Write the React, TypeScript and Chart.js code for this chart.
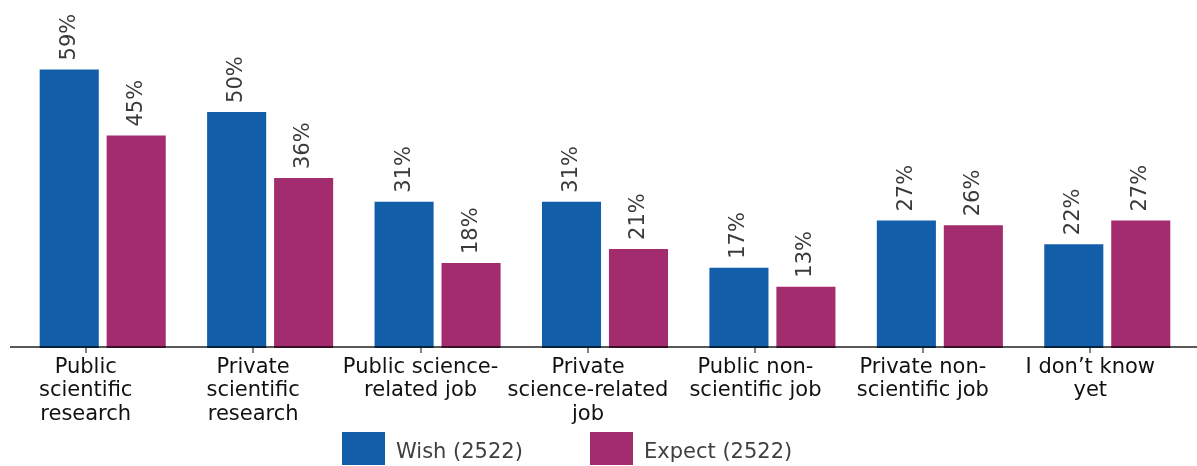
import React, { useEffect, useRef } from "react";
import { Chart, registerables } from "chart.js";

Chart.register(...registerables);

const categories: string[][] = [
  ["Public", "scientific", "research"],
  ["Private", "scientific", "research"],
  ["Public science-", "related job"],
  ["Private", "science-related", "job"],
  ["Public non-", "scientific job"],
  ["Private non-", "scientific job"],
  ["I don\u2019t know", "yet"],
];
const wishValues = [59, 50, 31, 31, 17, 27, 22];
const expectValues = [45, 36, 18, 21, 13, 26, 27];
const seriesNames = ["Wish (2522)", "Expect (2522)"];
const BLUE = "#125EA8";
const MAGENTA = "#A22C6E";
const FONT = "'DejaVu Sans', sans-serif";

const labelPlugin = {
  id: "valueLabels",
  afterDatasetsDraw(chart: any) {
    const ctx = chart.ctx;
    ctx.save();
    ctx.font = `21px ${FONT}`;
    ctx.fillStyle = "#3a3a3a";
    ctx.textAlign = "left";
    ctx.textBaseline = "middle";
    chart.data.datasets.forEach((ds: any, di: number) => {
      const meta = chart.getDatasetMeta(di);
      meta.data.forEach((el: any, i: number) => {
        ctx.save();
        ctx.translate(el.x, el.y - 9);
        ctx.rotate(-Math.PI / 2);
        ctx.fillText(`${ds.data[i]}%`, 0, 0);
        ctx.restore();
      });
    });
    ctx.restore();
  },
};

const axisPlugin = {
  id: "axisLine",
  afterDraw(chart: any) {
    const ctx = chart.ctx;
    const area = chart.chartArea;
    const x = chart.scales.x;
    ctx.save();
    ctx.strokeStyle = "rgba(0,0,0,0.65)";
    ctx.lineWidth = 2;
    ctx.beginPath();
    ctx.moveTo(area.left - 9, area.bottom - 1);
    ctx.lineTo(chart.width, area.bottom - 1);
    ctx.stroke();
    ctx.lineWidth = 1.5;
    ctx.beginPath();
    for (let i = 0; i < categories.length; i++) {
      const px = Math.round(x.getPixelForValue(i) - 17);
      ctx.moveTo(px, area.bottom);
      ctx.lineTo(px, area.bottom + 5);
    }
    ctx.stroke();
    ctx.restore();
  },
};

export default function App() {
  const ref = useRef<HTMLCanvasElement | null>(null);
  useEffect(() => {
    if (!ref.current) return;
    const chart = new Chart(ref.current, {
      type: "bar",
      data: {
        labels: categories,
        datasets: [
          {
            label: seriesNames[0],
            data: wishValues,
            backgroundColor: BLUE,
            borderWidth: 0,
            categoryPercentage: 0.8,
            barPercentage: 0.882,
          },
          {
            label: seriesNames[1],
            data: expectValues,
            backgroundColor: MAGENTA,
            borderWidth: 0,
            categoryPercentage: 0.8,
            barPercentage: 0.882,
          },
        ],
      },
      options: {
        animation: false,
        responsive: false,
        maintainAspectRatio: false,
        layout: { padding: { left: 19, right: 6, top: 0, bottom: 32 } },
        plugins: {
          legend: { display: false },
          tooltip: { enabled: false },
        },
        scales: {
          x: {
            grid: { display: false, drawTicks: false },
            border: { display: false },
            ticks: {
              font: { family: FONT, size: 21, lineHeight: 1.11 },
              color: "#111111",
              padding: 8,
              labelOffset: -17,
              maxRotation: 0,
              autoSkip: false,
            },
          },
          y: {
            display: false,
            min: 0,
            max: 73.7,
          },
        },
      },
      plugins: [axisPlugin, labelPlugin],
    });
    return () => chart.destroy();
  }, []);

  const legendItem = (color: string, text: string, extra: React.CSSProperties) => (
    <div style={{ display: "flex", alignItems: "center", ...extra }}>
      <div style={{ width: 43, height: 33, background: color }} />
      <span
        style={{
          marginLeft: 11,
          fontFamily: FONT,
          fontSize: 21,
          color: "#404040",
          lineHeight: "33px",
          position: "relative",
          top: 3,
        }}
      >
        {text}
      </span>
    </div>
  );

  return (
    <div style={{ position: "absolute", left: 0, top: 0, width: 1197, height: 466, background: "#fff" }}>
      <canvas ref={ref} width={1197} height={466} style={{ position: "absolute", left: 0, top: 0 }} />
      <div style={{ position: "absolute", left: 342, top: 432, display: "flex" }}>
        {legendItem(BLUE, seriesNames[0], {})}
        {legendItem(MAGENTA, seriesNames[1], { position: "absolute", left: 248, top: 0, whiteSpace: "nowrap" })}
      </div>
    </div>
  );
}
